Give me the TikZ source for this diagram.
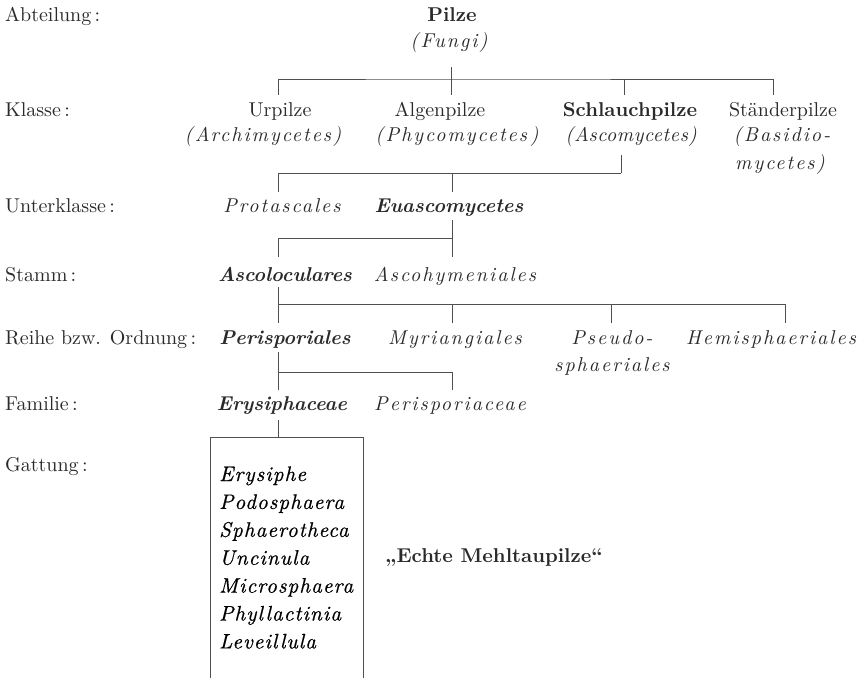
\documentclass[tikz,border=0pt]{standalone}
\usepackage{fontspec}
\setmainfont{lmroman10}[Extension=.otf, UprightFont=*-regular, BoldFont=*-bold, ItalicFont=*-italic, BoldItalicFont=*-bolditalic]
\definecolor{ink}{HTML}{2A2A2A}
\definecolor{linec}{HTML}{505050}
\begin{document}
\fontsize{20}{24}\selectfont
\begin{tikzpicture}[x=1pt,y=-1pt,
  every node/.style={inner sep=0pt, text=ink, anchor=base},
  lab/.style={anchor=base west, font=\rmfamily\upshape},
  rom/.style={font=\rmfamily\upshape},
  bld/.style={font=\bfseries\upshape},
  spit/.style={font=\itshape\addfontfeatures{LetterSpace=10}},
  nit/.style={font=\itshape\addfontfeatures{LetterSpace=3}},
  bit/.style={font=\bfseries\itshape},
  gen/.style={anchor=base west, text=black, font=\fontsize{21}{25}\selectfont\itshape\addfontfeatures{LetterSpace=5,FakeBold=0.6}},
  tree/.style={draw=linec, line width=0.8pt}]
\useasboundingbox[fill=white] (0,0) rectangle (867,678);

% level labels
\node[lab] (abt) at (5,21) {Abteilung\,:};
\node[lab] (kla) at (5,116) {Klasse\,:};
\node[lab] (ukl) at (5,212) {Unterklasse\,:};
\node[lab] (sta) at (5,281) {Stamm\,:};
\node[lab] (rei) at (5,344) {Reihe bzw. Ordnung\,:};
\node[lab] (fam) at (5,410) {Familie\,:};
\node[lab] (gat) at (5,471) {Gattung\,:};

% Abteilung
\node[bld] (pilze) at (452,21) {Pilze};
\node[spit] (fungi) at (449,47) {(Fungi)};

% Klasse
\node[rom] (urp) at (280,116) {Urpilze};
\node[spit] (arch) at (263,141) {(Archimycetes)};
\node[rom] (alg) at (440,116) {Algenpilze};
\node[spit] (phyc) at (457,141) {(Phycomycetes\,)};
\node[bld] (schl) at (630,116) {Schlauchpilze};
\node[nit] (asco) at (631,141) {(Ascomycetes)};
\node[rom] (staend) at (783,116) {Ständerpilze};
\node[spit] (basA) at (782,141) {(Basidio-};
\node[spit] (basB) at (780,169) {mycetes)};

% Unterklasse
\node[spit] (prot) at (282,212) {Protascales};
\node[bit] (euas) at (449,212) {Euascomycetes};

% Stamm
\node[bit] (ascol) at (285,281) {Ascoloculares};
\node[spit] (ascoh) at (455,281) {Ascohymeniales};

% Reihe
\node[bit] (peri) at (285,344) {Perisporiales};
\node[spit] (myri) at (455,344) {Myriangiales};
\node[spit] (pseA) at (612,344) {Pseudo-};
\node[spit] (pseB) at (612,371) {sphaeriales};
\node[spit] (hemi) at (771,344) {Hemisphaeriales};

% Familie
\node[bit] (erys) at (282,410) {Erysiphaceae};
\node[spit] (peris) at (450,410) {Perisporiaceae};

% Gattung
\node[gen] (g1) at (219,481) {Erysiphe};
\node[gen] (g2) at (219,508.9) {Podosphaera};
\node[gen] (g3) at (219,536.8) {Sphaerotheca};
\node[gen] (g4) at (219,564.7) {Uncinula};
\node[gen] (g5) at (219,592.6) {Microsphaera};
\node[gen] (g6) at (219,620.5) {Phyllactinia};
\node[gen] (g7) at (219,648.4) {Leveillula};
\node[bld, anchor=base west] (echt) at (385,562) {„Echte Mehltaupilze“};

% tree lines
\coordinate (p1) at (451,67);  \coordinate (b1) at (451,79);
\coordinate (c11) at (278,95); \coordinate (c12) at (451,95);
\coordinate (c13) at (624,95); \coordinate (c14) at (773,95);
\draw[tree] (p1) -- (c12);
\draw[tree] (c11) |- (b1) -| (c14);
\draw[tree] (c13) -- (c13 |- b1);

\coordinate (p2) at (621,155); \coordinate (b2) at (621,173);
\coordinate (c21) at (278,192); \coordinate (c22) at (452,192);
\draw[tree] (p2) -- (b2);
\draw[tree] (c21) |- (b2);
\draw[tree] (c22) -- (c22 |- b2);

\coordinate (p3) at (452,220); \coordinate (b3) at (452,238);
\coordinate (c31) at (278,257); \coordinate (c32) at (452,257);
\draw[tree] (p3) -- (c32);
\draw[tree] (c31) |- (b3);

\coordinate (p4) at (278,287); \coordinate (b4) at (278,304);
\coordinate (c41) at (278,323); \coordinate (c42) at (452,323);
\coordinate (c43) at (611,323); \coordinate (c44) at (785,323);
\draw[tree] (p4) -- (c41);
\draw[tree] (b4) -| (c44);
\draw[tree] (c42) -- (c42 |- b4);
\draw[tree] (c43) -- (c43 |- b4);

\coordinate (p5) at (278,352); \coordinate (b5) at (278,372);
\coordinate (c51) at (278,390); \coordinate (c52) at (452,390);
\draw[tree] (p5) -- (c51);
\draw[tree] (b5) -| (c52);

\coordinate (p6) at (278,420); \coordinate (b6) at (278,437);
\coordinate (bxL) at (210,678); \coordinate (bxTL) at (210,437);
\coordinate (bxTR) at (363,437); \coordinate (bxR) at (363,678);
\draw[tree] (p6) -- (b6);
\draw[tree] (bxL) -- (bxTL) -- (bxTR) -- (bxR);
\end{tikzpicture}
\end{document}
